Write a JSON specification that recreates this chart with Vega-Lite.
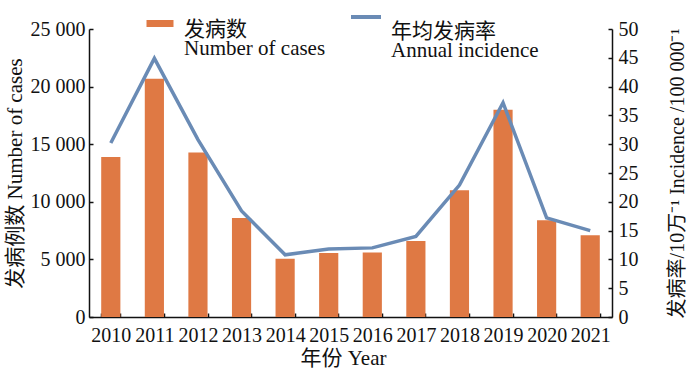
{
  "$schema": "https://vega.github.io/schema/vega-lite/v6.json",
  "autosize": {"type": "none"},
  "width": 523,
  "height": 288,
  "padding": {"left": 89, "top": 29, "right": 88, "bottom": 53},
  "background": "white",
  "config": {
    "view": {"stroke": null},
    "font": "Liberation Serif, Noto Sans CJK SC",
    "axis": {
      "labelFont": "Liberation Serif, Noto Sans CJK SC",
      "titleFont": "Liberation Serif, Noto Sans CJK SC",
      "labelColor": "#111",
      "titleColor": "#111",
      "domainColor": "#111",
      "tickColor": "#111",
      "labelFontSize": 20,
      "titleFontSize": 21,
      "titleFontWeight": "normal",
      "grid": false,
      "domainWidth": 1.5,
      "tickWidth": 1.5
    },
    "legend": {
      "labelFont": "Liberation Serif, Noto Sans CJK SC",
      "labelFontSize": 21,
      "labelColor": "#111"
    }
  },
  "data": {
    "values": [
      {"year": "2010", "cases": 13880, "rate": 30.2},
      {"year": "2011", "cases": 20690, "rate": 44.9},
      {"year": "2012", "cases": 14270, "rate": 30.8},
      {"year": "2013", "cases": 8600, "rate": 18.4},
      {"year": "2014", "cases": 5050, "rate": 10.8},
      {"year": "2015", "cases": 5550, "rate": 11.8},
      {"year": "2016", "cases": 5600, "rate": 12.0},
      {"year": "2017", "cases": 6600, "rate": 14.0},
      {"year": "2018", "cases": 11000, "rate": 22.9},
      {"year": "2019", "cases": 18000, "rate": 37.2},
      {"year": "2020", "cases": 8400, "rate": 17.2},
      {"year": "2021", "cases": 7100, "rate": 15.0}
    ]
  },
  "encoding": {
    "x": {
      "field": "year",
      "type": "ordinal",
      "scale": {"paddingInner": 0.56, "paddingOuter": 0.28},
      "axis": {
        "title": "年份  Year",
        "labelAngle": 0,
        "tickBand": "extent",
        "tickSize": -4,
        "labelPadding": 12,
        "titlePadding": 2,
        "titleX": 254
      }
    }
  },
  "layer": [
    {
      "mark": {"type": "bar", "color": "#DF7944"},
      "encoding": {
        "y": {
          "field": "cases",
          "type": "quantitative",
          "scale": {"domain": [0, 25000], "nice": false},
          "axis": {
            "title": "发病例数 Number of cases",
            "values": [0, 5000, 10000, 15000, 20000, 25000],
            "labelExpr": "replace(format(datum.value, ',d'), ',', ' ')",
            "tickSize": -4,
            "labelPadding": 8,
            "titlePadding": 5
          }
        },
        "fill": {
          "datum": "发病数|Number of cases",
          "scale": {"range": ["#DF7944"]},
          "legend": {
            "orient": "none",
            "legendX": 51,
            "legendY": -19,
            "title": null,
            "padding": 0,
            "symbolType": "M-0.675,-0.5H0.675V-0.15H-0.675Z",
            "symbolSize": 1600,
            "symbolStrokeWidth": 0,
            "labelExpr": "split(datum.label, '|')",
            "labelOffset": 4,
            "labelBaseline": "middle",
            "encode": {"labels": {"enter": {"lineHeight": {"value": 19}}, "update": {"lineHeight": {"value": 19}}}}
          }
        }
      }
    },
    {
      "mark": {"type": "line", "color": "#6A8BB5", "strokeWidth": 3.5},
      "encoding": {
        "y": {
          "field": "rate",
          "type": "quantitative",
          "scale": {"domain": [0, 50], "nice": false},
          "axis": {
            "title": "发病率/10万⁻¹ Incidence /100 000⁻¹",
            "titleAngle": 270,
            "titleBaseline": "top",
            "titleFontSize": 20,
            "orient": "right",
            "values": [0, 5, 10, 15, 20, 25, 30, 35, 40, 45, 50],
            "tickSize": -4,
            "labelPadding": 10,
            "titlePadding": 29
          }
        },
        "stroke": {
          "datum": "年均发病率|Annual incidence",
          "scale": {"range": ["#6A8BB5"]},
          "legend": {
            "orient": "none",
            "legendX": 255,
            "legendY": -19,
            "title": null,
            "padding": 0,
            "symbolType": "M-0.75,-0.75H0.75",
            "symbolSize": 1600,
            "symbolStrokeWidth": 4,
            "labelExpr": "split(datum.label, '|')",
            "labelOffset": 3,
            "labelBaseline": "middle",
            "encode": {"labels": {"enter": {"lineHeight": {"value": 19}}, "update": {"lineHeight": {"value": 19}}}}
          }
        }
      }
    }
  ],
  "resolve": {"scale": {"y": "independent", "fill": "independent", "stroke": "independent"}}
}
